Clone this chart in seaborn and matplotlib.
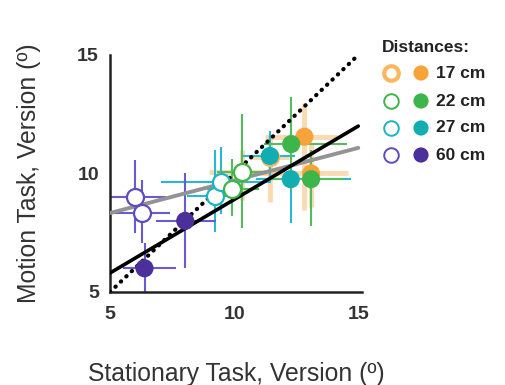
import matplotlib
matplotlib.use("Agg")
import matplotlib.pyplot as plt
import seaborn as sns
import pandas as pd
import numpy as np

# ---------------- data ----------------
distances = ["17 cm", "22 cm", "27 cm", "60 cm"]

# open symbols (one row per point)
open_dist = ["17 cm", "17 cm", "22 cm", "22 cm", "27 cm", "27 cm", "60 cm", "60 cm"]
open_x    = [10.33, 11.44, 10.31, 9.91, 9.21, 9.49, 6.00, 6.30]
open_y    = [10.05, 10.70, 10.05, 9.33, 9.05, 9.65, 9.00, 8.35]
open_xlo  = [9.00, 10.60, 9.30, 8.90, 8.10, 7.06, 5.00, 5.00]
open_xhi  = [11.50, 12.20, 11.50, 11.00, 10.10, 11.50, 7.26, 7.40]
open_ylo  = [8.90, 8.80, 7.70, 8.20, 7.55, 8.30, 7.48, 7.07]
open_yhi  = [11.00, 11.60, 12.50, 10.60, 11.00, 11.10, 10.57, 9.73]

# filled symbols
fill_dist = ["17 cm", "17 cm", "22 cm", "22 cm", "27 cm", "27 cm", "60 cm", "60 cm"]
fill_x    = [12.83, 13.10, 12.30, 13.10, 11.44, 12.28, 8.03, 6.39]
fill_y    = [11.55, 10.00, 11.24, 9.76, 10.74, 9.76, 8.00, 6.00]
fill_xlo  = [11.24, 11.10, 11.20, 11.50, 10.30, 10.90, 6.86, 5.53]
fill_xhi  = [14.16, 14.60, 14.56, 14.40, 12.45, 14.70, 9.25, 7.66]
fill_ylo  = [8.46, 8.60, 9.30, 7.80, 9.60, 7.90, 6.00, 5.00]
fill_yhi  = [12.97, 11.30, 13.24, 11.00, 11.80, 11.40, 10.00, 7.07]

# fitted lines (end points)
line_x   = [5.0, 15.0]
black_y  = [5.80, 12.00]
gray_y   = [8.33, 11.08]
unity_y  = [5.0, 15.0]

x_ticks = [5, 10, 15]
y_ticks = [5, 10, 15]

# ---------------- style ----------------
sns.set_style("white")
plt.rcParams['font.family'] = ['Liberation Sans', 'DejaVu Sans']

face = {"17 cm": "#F8A33A", "22 cm": "#3DB54A", "27 cm": "#12ADB0", "60 cm": "#4B2F9B"}
edge = {"17 cm": "#F9B860", "22 cm": "#3DB54A", "27 cm": "#1DB3C6", "60 cm": "#5D4DBE"}
bar  = {"17 cm": "#FAC27E", "22 cm": "#55BC5E", "27 cm": "#2AB7CF", "60 cm": "#6A5AD0"}
bar_lw = {"17 cm": 3.5, "22 cm": 1.5, "27 cm": 1.5, "60 cm": 1.5}
bar_alpha = {"17 cm": 0.6, "22 cm": 1.0, "27 cm": 1.0, "60 cm": 1.0}
open_z = {"17 cm": 4.5, "22 cm": 6, "27 cm": 6, "60 cm": 6}

fig = plt.figure(figsize=(5.06, 3.85), dpi=100)
ax = fig.add_axes([0.2174, 0.2416, 0.498, 0.6156])

df_open = pd.DataFrame(dict(dist=open_dist, x=open_x, y=open_y,
                            xlo=open_xlo, xhi=open_xhi, ylo=open_ylo, yhi=open_yhi))
df_fill = pd.DataFrame(dict(dist=fill_dist, x=fill_x, y=fill_y,
                            xlo=fill_xlo, xhi=fill_xhi, ylo=fill_ylo, yhi=fill_yhi))

order = ["17 cm", "27 cm", "22 cm", "60 cm"]

# error bars
for d in order:
    for df in (df_open, df_fill):
        sub = df[df.dist == d]
        ax.hlines(sub.y, sub.xlo, sub.xhi, color=bar[d], lw=bar_lw[d], alpha=bar_alpha[d], zorder=2)
        ax.vlines(sub.x, sub.ylo, sub.yhi, color=bar[d], lw=bar_lw[d], alpha=bar_alpha[d], zorder=2)

# lines
sns.lineplot(x=line_x, y=unity_y, ax=ax, color="black", lw=3.0, linestyle=(0, (0.1, 1.7)), zorder=4)
ax.lines[-1].set_dash_capstyle("round")
sns.lineplot(x=line_x, y=gray_y, ax=ax, color="#939393", lw=2.8, zorder=4)
sns.lineplot(x=line_x, y=black_y, ax=ax, color="black", lw=2.6, zorder=4)

# points
for d in order:
    sub = df_fill[df_fill.dist == d]
    sns.scatterplot(data=sub, x="x", y="y", ax=ax, color=face[d], s=170,
                    edgecolor="none", linewidth=0, zorder=5, legend=False)
    sub = df_open[df_open.dist == d]
    sns.scatterplot(data=sub, x="x", y="y", ax=ax, facecolor="white", s=150,
                    edgecolor=edge[d], linewidth=1.6, zorder=open_z[d], legend=False)

ax.set_xlim(5, 15.15)
ax.set_ylim(5, 15)
ax.set_xticks(x_ticks)
ax.set_yticks(y_ticks)
ax.set_xticklabels([str(t) for t in x_ticks], fontsize=14, fontweight="bold", color="#333333")
ax.set_yticklabels([str(t) for t in y_ticks], fontsize=14, fontweight="bold", color="#333333")
ax.tick_params(axis="x", direction="in", length=3, width=1.2, color="#222222", pad=10)
ax.tick_params(axis="y", direction="in", length=3, width=1.2, color="#222222", pad=8)
for s in ["top", "right"]:
    ax.spines[s].set_visible(False)
for s in ["left", "bottom"]:
    ax.spines[s].set_color("#222222")
    ax.spines[s].set_linewidth(1.8)
ax.set_xlabel("Stationary Task, Version (º)", fontsize=17.8, color="#333333", labelpad=28)
ax.set_ylabel("Motion Task, Version (º)", fontsize=17.8, color="#333333", labelpad=26)

# legend (drawn in figure coords)
fig.text(382 / 506, 1 - 47 / 385, "Distances:", fontsize=12.5, fontweight="bold",
         color="#222222", va="center", ha="left")
rows_y = [73, 101, 128, 155]
lax = fig.add_axes([0, 0, 1, 1], facecolor="none")
lax.set_xlim(0, 506)
lax.set_ylim(385, 0)
lax.axis("off")
for d, yy in zip(distances, rows_y):
    lw_o = 3.0 if d == "17 cm" else 1.4
    lax.scatter([391], [yy], s=110, facecolor="white", edgecolor=edge[d], linewidth=lw_o)
    lax.scatter([421], [yy], s=120, color=face[d], edgecolor="none")
    lax.text(436, yy, d, fontsize=12.5, fontweight="bold", color="#222222", va="center", ha="left")

fig.savefig("out.png", dpi=100)
